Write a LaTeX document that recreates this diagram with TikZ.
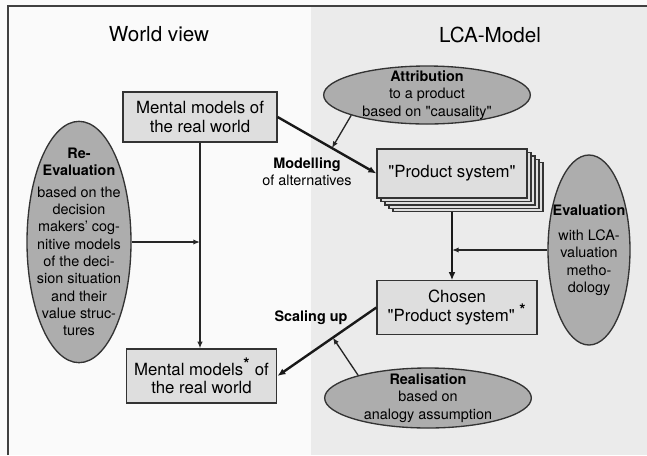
\documentclass[tikz,border=0pt]{standalone}
\usepackage{fontspec}
\setmainfont{TeX Gyre Heros}
\usetikzlibrary{shapes.geometric,arrows.meta}
\definecolor{bggray}{gray}{0.92}
\definecolor{boxgray}{gray}{0.87}
\definecolor{ellgray}{gray}{0.68}
\newcommand{\dq}{\textquotedbl}
\newcommand{\bigstar}{\textsuperscript{\large\textbf{*}}}

\begin{document}
\begin{tikzpicture}[x=0.75pt,y=-0.75pt,
  mbox/.style={draw=black!80,fill=boxgray,line width=0.9pt,align=center,
    font=\fontsize{12.6}{14}\selectfont},
  oval/.style={ellipse,draw=black!80,fill=ellgray,line width=1pt,inner sep=0pt},
  otext/.style={align=center,font=\fontsize{10.8}{13}\selectfont},
  ttl/.style={font=\fontsize{15.5}{18}\selectfont},
  tarrow/.style={line width=1pt,black!85,-{Latex[length=5pt,width=4pt]}},
  karrow/.style={line width=1.8pt,black!90,-{Latex[length=6pt,width=5pt]}}]
\useasboundingbox (0,0) rectangle (647,455);
\fill[black!2] (0,0) rectangle (647,455);
\fill[bggray] (311,7) rectangle (647,455);
\draw[line width=1.4pt,black!75] (8,455) -- (8,6) -- (647,6);

\node[ttl] (wv) at (159,34) {World view};
\node[ttl] (lca) at (490,35) {LCA-Model};

\node[mbox,minimum width=115.5pt,minimum height=37.5pt] (mm) at (200,117) {Mental models of\\the real world};
\node[mbox,minimum width=113pt,minimum height=40.5pt] (mms) at (201.5,376) {Mental models\bigstar{} of\\the real world};
\foreach \k in {4,3,2,1}
  \node[mbox,minimum width=112.5pt,minimum height=36.75pt,xshift=\k*3pt,yshift=-\k*2.6pt] at (452,173.5) {};
\node[mbox,minimum width=112.5pt,minimum height=36.75pt] (ps) at (452,173.5) {\dq Product system\dq};
\node[mbox,minimum width=120pt,minimum height=40pt] (ch) at (457,307.5) {Chosen\\\dq Product system\dq{} \bigstar};

\node[oval,minimum width=78pt,minimum height=181pt] (reeval) at (79,242) {};
\node[otext] (reevaltxt) at (reeval) {\textbf{Re-}\\\textbf{Evaluation}\\[3pt]based on the\\decision\\makers' cog-\\nitive models\\of the deci-\\sion situation\\and their\\value struc-\\tures};
\node[oval,minimum width=61.5pt,minimum height=142.5pt] (eval) at (589,250) {};
\node[otext] (evaltxt) at (eval) {\textbf{Evaluation}\\[6pt]with LCA-\\valuation\\metho-\\dology};
\node[oval,minimum width=155pt,minimum height=43.5pt] (attr) at (427,95) {};
\node[otext] (attrtxt) at (attr) {\textbf{Attribution}\\to a product\\based on \dq causality\dq};
\node[oval,minimum width=155pt,minimum height=45pt] (real) at (428,398) {};
\node[otext] (realtxt) at (real) {\textbf{Realisation}\\based on\\analogy assumption};

\draw[tarrow] (mm.south) -- (mm.south |- mms.north);
\draw[tarrow] (reeval.east) -- (reeval.east -| mm.south);
\draw[karrow] (mm.east) -- coordinate[pos=0.55] (mline) (ps.west);
\draw[tarrow] (attr.195) -- (mline);
\node[otext] (modlbl) at (307,172) {\textbf{Modelling}\\of alternatives};
\draw[karrow] ([yshift=-10.4pt]ps.south) -- (ps.south |- ch.north);
\draw[tarrow] (eval.west) -- (eval.west -| ps.south);
\draw[karrow] (ch.west) -- coordinate[pos=0.44] (sline) (mms.east);
\draw[tarrow] (real.162) -- (sline);
\node[otext] (sclbl) at (311,318) {\textbf{Scaling up}};
\end{tikzpicture}
\end{document}
